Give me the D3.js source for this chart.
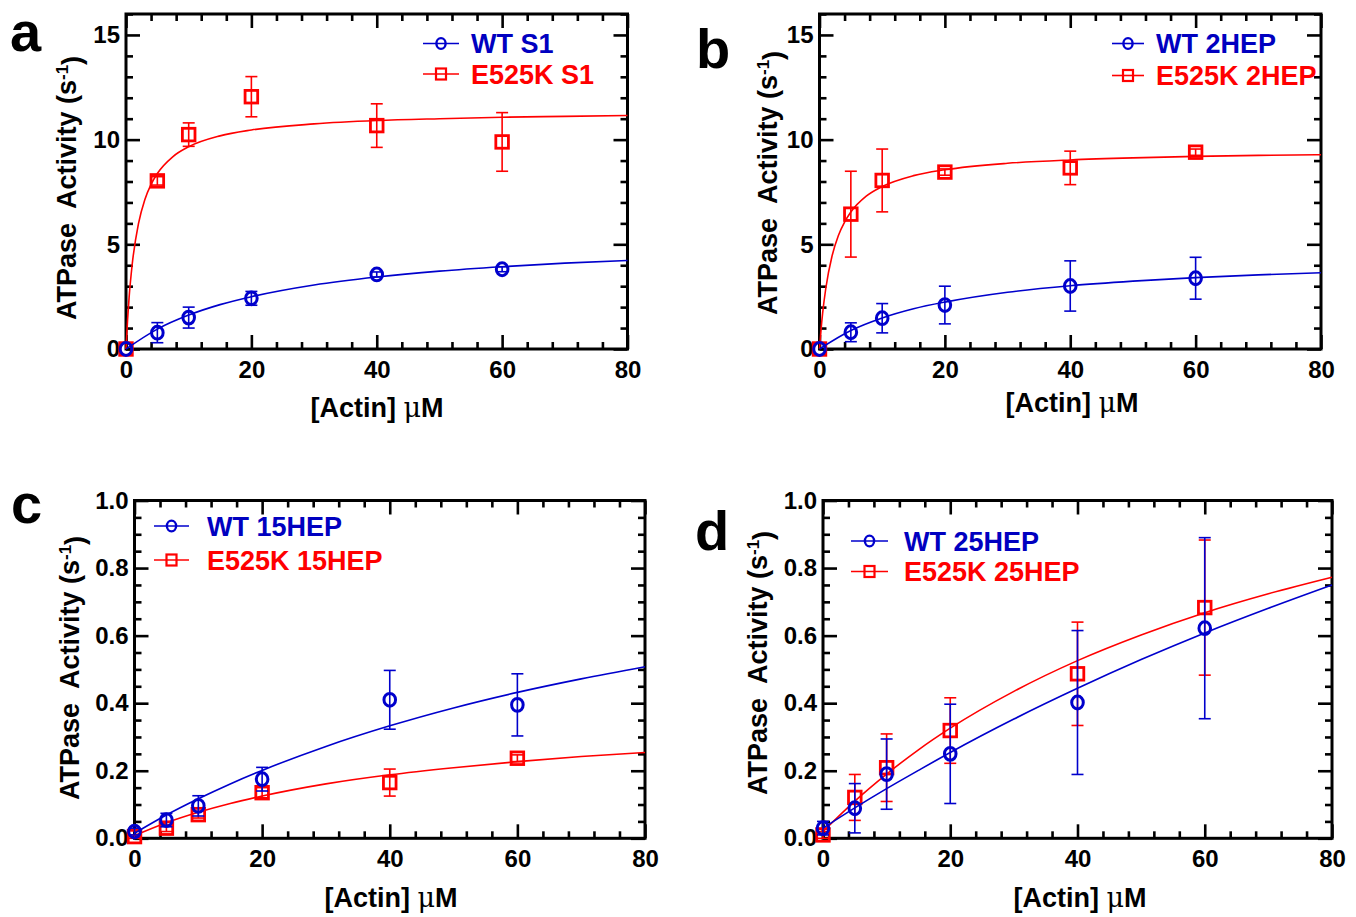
<!DOCTYPE html>
<html><head><meta charset="utf-8">
<script src="https://cdn.jsdelivr.net/npm/d3@7"></script>
<style>
body{margin:0;background:#fff;}
text{font-family:"Liberation Sans",Arial,sans-serif;font-weight:bold;}
</style></head><body>
<svg id="chart" width="1356" height="917"></svg>
<script>
// ---------- data ----------
const actin = [0, 5, 10, 20, 40, 60];
const xTickValues = [0, 20, 40, 60, 80];
const xTickLabels = ["0", "20", "40", "60", "80"];
const yTickValuesAB = [0, 5, 10, 15];
const yTickLabelsAB = ["0", "5", "10", "15"];
const yTickValuesCD = [0, 0.2, 0.4, 0.6, 0.8, 1.0];
const yTickLabelsCD = ["0.0", "0.2", "0.4", "0.6", "0.8", "1.0"];

const legendA = ["WT S1", "E525K S1"];
const legendB = ["WT 2HEP", "E525K 2HEP"];
const legendC = ["WT 15HEP", "E525K 15HEP"];
const legendD = ["WT 25HEP", "E525K 25HEP"];

// panel a
const aWT = [0, 0.78, 1.5, 2.42, 3.56, 3.81];
const aWTerr = [0, 0.48, 0.5, 0.33, 0.12, 0.12];
const aMut = [0, 8.03, 10.24, 12.05, 10.67, 9.89];
const aMutErr = [0, 0.2, 0.56, 0.96, 1.04, 1.4];
// panel b
const bWT = [0, 0.8, 1.47, 2.1, 3.01, 3.38];
const bWTerr = [0, 0.45, 0.7, 0.9, 1.2, 1.0];
const bMut = [0, 6.44, 8.05, 8.45, 8.65, 9.4];
const bMutErr = [0, 2.05, 1.5, 0.15, 0.8, 0.15];
// panel c
const cWT = [0.02, 0.054, 0.096, 0.175, 0.41, 0.395];
const cWTerr = [0.01, 0.02, 0.03, 0.035, 0.087, 0.092];
const cMut = [0.005, 0.03, 0.07, 0.135, 0.165, 0.237];
const cMutErr = [0.005, 0.01, 0.01, 0.015, 0.04, 0.01];
// panel d
const dWT = [0.03, 0.089, 0.19, 0.25, 0.402, 0.622];
const dWTerr = [0.02, 0.073, 0.104, 0.147, 0.213, 0.268];
const dMut = [0.01, 0.121, 0.209, 0.319, 0.487, 0.683];
const dMutErr = [0.01, 0.068, 0.1, 0.097, 0.153, 0.2];

// fitted curves
const fitX = [0, 5, 10, 15, 20, 30, 40, 50, 60, 70, 80];
const fitXSteep = [0, 0.25, 0.5, 1, 2, 3, 4, 5, 7.5, 10, 15, 20, 30, 40, 50, 60, 70, 80];
const aWTfit = [0, 0.95, 1.62, 2.12, 2.5, 3.06, 3.44, 3.72, 3.93, 4.10, 4.23];
const aMutFit = [0, 1.39, 2.48, 4.07, 6.0, 7.13, 7.86, 8.38, 9.19, 9.66, 10.18, 10.46, 10.75, 10.91, 11.0, 11.07, 11.11, 11.15];
const bWTfit = [0, 0.88, 1.48, 1.92, 2.24, 2.71, 3.02, 3.24, 3.41, 3.54, 3.64];
const bMutFit = [0, 0.94, 1.71, 2.89, 4.44, 5.41, 6.06, 6.54, 7.31, 7.76, 8.28, 8.56, 8.87, 9.03, 9.13, 9.2, 9.25, 9.28];
const cWTfit = [0.015, 0.069, 0.117, 0.161, 0.201, 0.272, 0.333, 0.386, 0.432, 0.472, 0.508];
const cMutFit = [0.008, 0.046, 0.077, 0.103, 0.125, 0.161, 0.188, 0.209, 0.227, 0.242, 0.254];
const dWTfit = [0.03, 0.09, 0.147, 0.201, 0.254, 0.353, 0.444, 0.529, 0.608, 0.681, 0.75];
const dMutFit = [0.02, 0.11, 0.19, 0.262, 0.326, 0.435, 0.526, 0.602, 0.668, 0.724, 0.773];

// ---------- style / layout ----------
const BLUE = "#0000cc", RED = "#ff0000";
const BLUE_TXT = "#0000c0";

const panels = [
  {letter:"a", L:126, R:627.5, T:14, B:349, ymax:16, yv:yTickValuesAB, yl:yTickLabelsAB, yMinorStep:1,
   wt:aWT, wtErr:aWTerr, mut:aMut, mutErr:aMutErr, wtFitX:fitX, wtFit:aWTfit, mutFitX:fitXSteep, mutFit:aMutFit,
   legend:legendA, lg:{x0:423, x1:459, tx:471, y1:43.5, y2:74},
   letterPos:[10, 51], yTitle:[76, 188], xTitle:[377, 417]},
  {letter:"b", L:819.5, R:1321, T:14, B:349, ymax:16, yv:yTickValuesAB, yl:yTickLabelsAB, yMinorStep:1,
   wt:bWT, wtErr:bWTerr, mut:bMut, mutErr:bMutErr, wtFitX:fitX, wtFit:bWTfit, mutFitX:fitXSteep, mutFit:bMutFit,
   legend:legendB, lg:{x0:1112, x1:1144, tx:1156, y1:43.5, y2:75.5},
   letterPos:[696, 68], yTitle:[777, 183], xTitle:[1072, 412]},
  {letter:"c", L:134.5, R:645, T:500.5, B:838.3, ymax:1.0, yv:yTickValuesCD, yl:yTickLabelsCD, yMinorStep:0.05,
   wt:cWT, wtErr:cWTerr, mut:cMut, mutErr:cMutErr, wtFitX:fitX, wtFit:cWTfit, mutFitX:fitX, mutFit:cMutFit,
   legend:legendC, lg:{x0:154, x1:189, tx:207, y1:526, y2:560},
   letterPos:[11, 523], yTitle:[79, 668], xTitle:[391, 907]},
  {letter:"d", L:823, R:1332, T:500.5, B:838.3, ymax:1.0, yv:yTickValuesCD, yl:yTickLabelsCD, yMinorStep:0.05,
   wt:dWT, wtErr:dWTerr, mut:dMut, mutErr:dMutErr, wtFitX:fitX, wtFit:dWTfit, mutFitX:fitX, mutFit:dMutFit,
   legend:legendD, lg:{x0:851, x1:888, tx:904, y1:541, y2:571.5},
   letterPos:[695, 550], yTitle:[767, 663], xTitle:[1080, 907]}
];

const svg = d3.select("#chart");

function drawPanel(p) {
  const g = svg.append("g");
  const x = d3.scaleLinear().domain([0, 80]).range([p.L, p.R]);
  const y = d3.scaleLinear().domain([0, p.ymax]).range([p.B, p.T]);

  const xMinor = d3.range(0, 80.001, 4).filter(v => v % 20 !== 0);
  const yMinor = d3.range(0, p.ymax + 1e-9, p.yMinorStep).map(v => +v.toFixed(3))
      .filter(v => !p.yv.some(t => Math.abs(t - v) < 1e-6));
  const yMajorAll = d3.range(0, p.ymax + 1e-9, p.yv[1] - p.yv[0]).map(v => +v.toFixed(3));

  function styleAxis(sel) {
    sel.select(".domain").remove();
    sel.selectAll(".tick line").attr("stroke", "#000").attr("stroke-width", 2.6);
    sel.selectAll(".tick text").attr("fill", "#000").style("font-size", "24px");
  }
  const lblX = d => xTickLabels[xTickValues.indexOf(d)];
  const lblY = d => p.yl[p.yv.findIndex(t => Math.abs(t - d) < 1e-6)];

  // bottom
  g.append("g").attr("transform", `translate(0,${p.B})`)
    .call(d3.axisBottom(x).tickValues(xTickValues).tickFormat(lblX).tickSize(-14).tickPadding(12)).call(styleAxis);
  g.append("g").attr("transform", `translate(0,${p.B})`)
    .call(d3.axisBottom(x).tickValues(xMinor).tickFormat("").tickSize(-7)).call(styleAxis);
  // top
  g.append("g").attr("transform", `translate(0,${p.T})`)
    .call(d3.axisTop(x).tickValues(xTickValues).tickFormat("").tickSize(-14)).call(styleAxis);
  g.append("g").attr("transform", `translate(0,${p.T})`)
    .call(d3.axisTop(x).tickValues(xMinor).tickFormat("").tickSize(-7)).call(styleAxis);
  // left
  g.append("g").attr("transform", `translate(${p.L},0)`)
    .call(d3.axisLeft(y).tickValues(p.yv).tickFormat(lblY).tickSize(-14).tickPadding(6)).call(styleAxis);
  g.append("g").attr("transform", `translate(${p.L},0)`)
    .call(d3.axisLeft(y).tickValues(yMinor).tickFormat("").tickSize(-7)).call(styleAxis);
  // right
  g.append("g").attr("transform", `translate(${p.R},0)`)
    .call(d3.axisRight(y).tickValues(yMajorAll).tickFormat("").tickSize(-14)).call(styleAxis);
  g.append("g").attr("transform", `translate(${p.R},0)`)
    .call(d3.axisRight(y).tickValues(yMinor).tickFormat("").tickSize(-7)).call(styleAxis);

  // frame
  g.append("rect").attr("x", p.L).attr("y", p.T).attr("width", p.R - p.L).attr("height", p.B - p.T)
    .attr("fill", "none").attr("stroke", "#000").attr("stroke-width", 3);

  const line = d3.line().x(d => x(d[0])).y(d => y(d[1])).curve(d3.curveMonotoneX);

  function series(vals, errs, fx, fy, color, shape) {
    g.append("path").datum(fx.map((v, i) => [v, fy[i]]))
      .attr("d", line).attr("fill", "none").attr("stroke", color).attr("stroke-width", 1.6);
    const pts = actin.map((v, i) => ({x: v, y: vals[i], e: errs[i]}));
    const eb = g.append("g").attr("stroke", color).attr("stroke-width", 1.6);
    pts.forEach(d => {
      if (d.e <= 0) return;
      const cx = x(d.x), yt = y(d.y + d.e), yb = y(Math.max(d.y - d.e, -1));
      eb.append("line").attr("x1", cx).attr("x2", cx).attr("y1", yt).attr("y2", yb);
      eb.append("line").attr("x1", cx - 6).attr("x2", cx + 6).attr("y1", yt).attr("y2", yt);
      eb.append("line").attr("x1", cx - 6).attr("x2", cx + 6).attr("y1", yb).attr("y2", yb);
    });
    pts.forEach(d => {
      if (shape === "circle") {
        g.append("ellipse").attr("cx", x(d.x)).attr("cy", y(d.y)).attr("rx", 5.8).attr("ry", 6.4)
          .attr("fill", "none").attr("stroke", color).attr("stroke-width", 3);
      } else {
        g.append("rect").attr("x", x(d.x) - 6.3).attr("y", y(d.y) - 6.3).attr("width", 12.6).attr("height", 12.6)
          .attr("fill", "none").attr("stroke", color).attr("stroke-width", 2.8);
      }
    });
  }
  series(p.mut, p.mutErr, p.mutFitX, p.mutFit, RED, "square");
  series(p.wt, p.wtErr, p.wtFitX, p.wtFit, BLUE, "circle");

  // legend
  const lg = p.lg;
  [[lg.y1, BLUE, BLUE_TXT, "circle", p.legend[0]], [lg.y2, RED, RED, "square", p.legend[1]]].forEach(([ly, c, tc, shape, label]) => {
    g.append("line").attr("x1", lg.x0).attr("x2", lg.x1).attr("y1", ly).attr("y2", ly)
      .attr("stroke", c).attr("stroke-width", 1.6);
    const mx = (lg.x0 + lg.x1) / 2;
    if (shape === "circle") {
      g.append("ellipse").attr("cx", mx).attr("cy", ly).attr("rx", 4.6).attr("ry", 5.4)
        .attr("fill", "none").attr("stroke", c).attr("stroke-width", 2.4);
    } else {
      g.append("rect").attr("x", mx - 5).attr("y", ly - 5.5).attr("width", 10).attr("height", 11)
        .attr("fill", "none").attr("stroke", c).attr("stroke-width", 2.2);
    }
    g.append("text").attr("x", lg.tx).attr("y", ly + 9.5).attr("fill", tc)
      .style("font-size", "27px").text(label);
  });

  // axis titles
  const yt = g.append("text")
    .attr("transform", `translate(${p.yTitle[0]},${p.yTitle[1]}) rotate(-90)`)
    .attr("text-anchor", "middle").style("font-size", "27px").style("white-space", "pre").attr("fill", "#000");
  yt.append("tspan").text("ATPase  Activity (s");
  yt.append("tspan").attr("dy", "-0.45em").style("font-size", "17px").text("-1");
  yt.append("tspan").attr("dy", "0.45em").text(")");

  const xt = g.append("text").attr("x", p.xTitle[0]).attr("y", p.xTitle[1])
    .attr("text-anchor", "middle").style("font-size", "27px").style("white-space", "pre").attr("fill", "#000");
  xt.append("tspan").text("[Actin] ");
  xt.append("tspan").style("font-family", "'DejaVu Serif', serif").style("font-weight", "normal").text("\u03BC");
  xt.append("tspan").text("M");

  // panel letter
  g.append("text").attr("x", p.letterPos[0]).attr("y", p.letterPos[1]).style("font-size", "56px")
    .attr("fill", "#000").text(p.letter);
}

panels.forEach(drawPanel);
</script>
</body></html>
